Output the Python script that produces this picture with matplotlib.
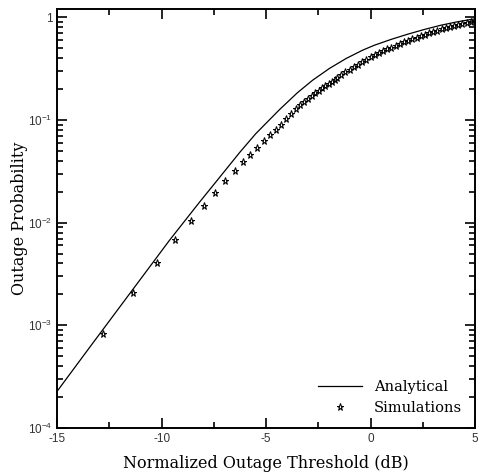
import matplotlib
matplotlib.use("Agg")
import matplotlib.pyplot as plt
from matplotlib.ticker import MultipleLocator, LogLocator, NullFormatter

# Analytical curve (threshold in dB, outage probability)
analytical_db = [-15.0, -13.43, -9.62, -8.18, -7.31, -6.27, -5.5, -4.36, -3.5,
                 -2.77, -1.97, -1.17, -0.38, 0.18, 1.0, 1.77, 2.6, 3.37, 4.1, 4.8, 5.0]
analytical_p = [2.29e-4, 6.18e-4, 6.76e-3, 1.59e-2, 2.63e-2, 4.81e-2, 7.33e-2, 0.1259, 0.1841,
                0.2438, 0.3170, 0.3963, 0.4775, 0.5333, 0.6095, 0.6823, 0.7621, 0.8356,
                0.8974, 0.9506, 0.9638]

# Simulation points
sim_db = [-12.83, -11.37, -10.24, -9.34, -8.61, -7.99, -7.43, -6.95, -6.51, -6.13,
          -5.76, -5.43, -5.11, -4.82, -4.55, -4.28, -4.04, -3.81, -3.59, -3.38,
          -3.19, -3.00, -2.82, -2.64, -2.47, -2.31, -2.16, -2.01, -1.86, -1.72,
          -1.59, -1.4, -1.2, -1.0, -0.8, -0.6, -0.4, -0.2, 0.0, 0.2,
          0.4, 0.6, 0.8, 1.0, 1.2, 1.4, 1.6, 1.8, 2.0, 2.2,
          2.4, 2.6, 2.8, 3.0, 3.2, 3.4, 3.6, 3.8, 4.0, 4.2,
          4.4, 4.6, 4.8, 5.0]
sim_p = [8.28e-4, 2.07e-3, 4.03e-3, 6.71e-3, 1.03e-2, 1.457e-2, 1.95e-2, 2.54e-2, 3.17e-2, 3.85e-2,
         4.57e-2, 5.35e-2, 6.21e-2, 7.06e-2, 7.95e-2, 0.0891, 0.1023, 0.1148, 0.1274, 0.1403,
         0.1507, 0.1614, 0.1714, 0.1820, 0.1923, 0.2028, 0.2128, 0.2234, 0.2344, 0.2455,
         0.2559, 0.2723, 0.2911, 0.3090, 0.3266, 0.3459, 0.3656, 0.3864, 0.4074, 0.4305,
         0.4519, 0.4699, 0.4875, 0.5070, 0.5260, 0.5470, 0.5689, 0.5902, 0.6109, 0.6310,
         0.6516, 0.6730, 0.6950, 0.7161, 0.7379, 0.7603, 0.7816, 0.8017, 0.8222, 0.8414,
         0.8610, 0.8810, 0.8995, 0.9162]

x_ticks = [-15, -10, -5, 0, 5]
y_ticks = [1e-4, 1e-3, 1e-2, 1e-1, 1]
y_tick_labels = [r'$\mathregular{10^{-4}}$', r'$\mathregular{10^{-3}}$',
                 r'$\mathregular{10^{-2}}$', r'$\mathregular{10^{-1}}$', '1']

plt.rcParams['font.family'] = 'Liberation Sans'
plt.rcParams['axes.unicode_minus'] = False

fig = plt.figure(figsize=(4.79, 4.75), dpi=100)
ax = fig.add_axes([0.1196, 0.0989, 0.872, 0.882])

ax.plot(analytical_db, analytical_p, color='black', lw=0.9, label='Analytical')
ax.plot(sim_db, sim_p, linestyle='none', marker='*', markersize=5.2,
        markerfacecolor='none', markeredgecolor='black', markeredgewidth=0.75,
        label='Simulations')

ax.set_yscale('log')
ax.set_xlim(-15, 5)
ax.set_ylim(1e-4, 1.2)

ax.set_xticks(x_ticks)
ax.xaxis.set_minor_locator(MultipleLocator(2.5))
ax.set_yticks(y_ticks)
ax.set_yticklabels(y_tick_labels)
ax.yaxis.set_minor_locator(LogLocator(base=10, subs=range(2, 10)))
ax.yaxis.set_minor_formatter(NullFormatter())

ax.tick_params(which='both', direction='in', top=True, right=True,
               labelsize=8.5, labelcolor='#333333', width=1.2)
ax.tick_params(which='major', length=7)
ax.tick_params(which='minor', length=4)
for sp in ax.spines.values():
    sp.set_linewidth(1.4)

ax.set_xlabel('Normalized Outage Threshold (dB)', fontfamily='DejaVu Serif',
              fontsize=11.5, labelpad=7)
ax.set_ylabel('Outage Probability', fontfamily='DejaVu Serif', fontsize=11.5,
              labelpad=0)

ax.legend(loc='lower right', frameon=False, prop={'family': 'DejaVu Serif', 'size': 10.5},
          handlelength=3.0, borderaxespad=0.5, labelspacing=0.45)

fig.savefig('out.png', dpi=100)
